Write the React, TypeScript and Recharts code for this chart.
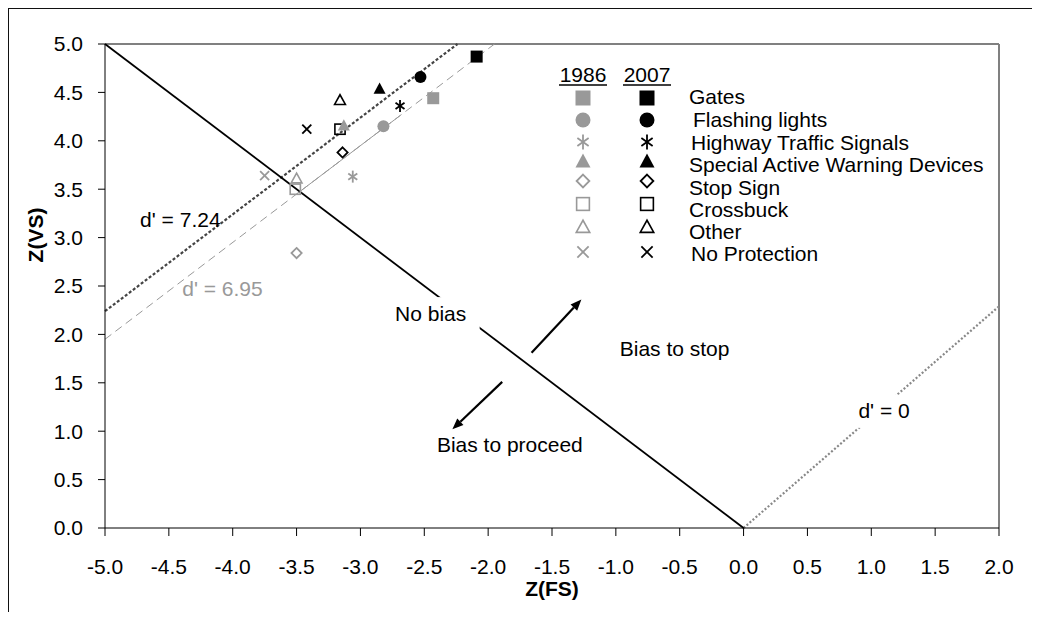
import {
  ComposedChart,
  Scatter,
  XAxis,
  YAxis,
  ReferenceLine,
  ReferenceDot,
  Legend,
} from "recharts";

const FONT = "'Liberation Sans', Arial, Helvetica, sans-serif";
const GRAY = "#999999";
const BLACK = "#000000";

const categories = [
  "Gates",
  "Flashing lights",
  "Highway Traffic Signals",
  "Special Active Warning Devices",
  "Stop Sign",
  "Crossbuck",
  "Other",
  "No Protection",
];
const markerKinds = ["square", "circle", "asterisk", "triangle", "diamondOpen", "squareOpen", "triangleOpen", "cross"];
const years = ["1986", "2007"];

// z-scores: false stops (x) and valid stops (y)
const fs1986 = [-2.43, -2.82, -3.06, -3.13, -3.5, -3.51, -3.5, -3.75];
const vs1986 = [4.44, 4.15, 3.63, 4.16, 2.84, 3.5, 3.61, 3.64];
const fs2007 = [-2.09, -2.53, -2.69, -2.85, -3.14, -3.16, -3.16, -3.42];
const vs2007 = [4.87, 4.66, 4.36, 4.54, 3.88, 4.12, 4.42, 4.12];

const xTicks = [-5, -4.5, -4, -3.5, -3, -2.5, -2, -1.5, -1, -0.5, 0, 0.5, 1, 1.5, 2];
const yTicks = [0, 0.5, 1, 1.5, 2, 2.5, 3, 3.5, 4, 4.5, 5];

const noBiasLine = [{ x: -5, y: 5 }, { x: 0, y: 0 }];
const dPrime724Line = [{ x: -5, y: 2.24 }, { x: -2.24, y: 5 }];
const dPrime695Line = [{ x: -5, y: 1.95 }, { x: -1.95, y: 5 }];
const dPrime695Solid = [{ x: -3.5, y: 3.45 }, { x: -2.69, y: 4.26 }];
const dPrime0Line = [{ x: 0, y: 0 }, { x: 2, y: 2.29 }];
const arrowToStop = [{ x: -1.66, y: 1.81 }, { x: -1.27, y: 2.36 }];
const arrowToProceed = [{ x: -1.89, y: 1.51 }, { x: -2.28, y: 1.02 }];

const notes = [
  { x: -4.41, y: 3.19, text: "d' = 7.24", color: BLACK, box: 0 },
  { x: -4.08, y: 2.47, text: "d' = 6.95", color: GRAY, box: 0 },
  { x: -2.45, y: 2.22, text: "No bias", color: BLACK, box: 94 },
  { x: -0.54, y: 1.85, text: "Bias to stop", color: BLACK, box: 0 },
  { x: -1.83, y: 0.86, text: "Bias to proceed", color: BLACK, box: 0 },
  { x: 1.1, y: 1.21, text: "d' = 0", color: BLACK, box: 58 },
];

const fmt = (v: number) => v.toFixed(1);

function Marker({ kind, color, cx, cy, size }: { kind: string; color: string; cx: number; cy: number; size: number }) {
  const h = size / 2;
  switch (kind) {
    case "square":
      return <rect x={cx - h} y={cy - h} width={size} height={size} fill={color} />;
    case "circle":
      return <circle cx={cx} cy={cy} r={h} fill={color} />;
    case "triangle":
      return <polygon points={`${cx},${cy - h} ${cx + h},${cy + h * 0.85} ${cx - h},${cy + h * 0.85}`} fill={color} />;
    case "diamondOpen": {
      const d = h * 0.85;
      return (
        <polygon
          points={`${cx},${cy - d} ${cx + d},${cy} ${cx},${cy + d} ${cx - d},${cy}`}
          fill="none"
          stroke={color}
          strokeWidth={1.8}
        />
      );
    }
    case "squareOpen": {
      const d = h * 0.85;
      return <rect x={cx - d} y={cy - d} width={d * 2} height={d * 2} fill="none" stroke={color} strokeWidth={1.6} />;
    }
    case "triangleOpen": {
      const d = h * 0.9;
      return (
        <polygon
          points={`${cx},${cy - d} ${cx + d},${cy + d * 0.8} ${cx - d},${cy + d * 0.8}`}
          fill="none"
          stroke={color}
          strokeWidth={1.6}
        />
      );
    }
    case "asterisk": {
      const d = h * 0.75;
      return (
        <g stroke={color} strokeWidth={1.8}>
          <line x1={cx} y1={cy - h} x2={cx} y2={cy + h} />
          <line x1={cx - d} y1={cy - d * 0.7} x2={cx + d} y2={cy + d * 0.7} />
          <line x1={cx - d} y1={cy + d * 0.7} x2={cx + d} y2={cy - d * 0.7} />
        </g>
      );
    }
    default: {
      const d = h * 0.75;
      return (
        <g stroke={color} strokeWidth={1.8}>
          <line x1={cx - d} y1={cy - d} x2={cx + d} y2={cy + d} />
          <line x1={cx - d} y1={cy + d} x2={cx + d} y2={cy - d} />
        </g>
      );
    }
  }
}

function Arrow(props: any) {
  const { x1, y1, x2, y2 } = props;
  const a = Math.atan2(y2 - y1, x2 - x1);
  const len = 11;
  const w = 4.5;
  const bx = x2 - len * Math.cos(a);
  const by = y2 - len * Math.sin(a);
  const px = -Math.sin(a) * w;
  const py = Math.cos(a) * w;
  return (
    <g>
      <line x1={x1} y1={y1} x2={bx} y2={by} stroke={BLACK} strokeWidth={2.2} />
      <polygon points={`${x2},${y2} ${bx + px},${by + py} ${bx - px},${by - py}`} fill={BLACK} />
    </g>
  );
}

function NoteShape({ cx, cy, note }: any) {
  return (
    <g>
      {note.box > 0 && <rect x={cx - note.box / 2 + 2} y={cy - 16} width={note.box} height={33} fill="#fff" />}
      <text x={cx} y={cy} textAnchor="middle" dominantBaseline="central" fill={note.color} fontSize={21} fontFamily={FONT}>
        {note.text}
      </text>
    </g>
  );
}

function LegendBlock() {
  const symX = [575, 639];
  const rowY = [90, 112, 134, 153, 173, 196, 219, 244];
  const textY = [88, 111, 134, 156, 179, 201, 223, 245];
  const textX = [681, 685, 683, 681, 681, 681, 681, 683];
  const colors = [GRAY, BLACK];
  return (
    <svg width={1032} height={300} style={{ display: "block", overflow: "visible" }}>
      {years.map((yr, i) => (
        <g key={yr}>
          <text x={symX[i]} y={74} textAnchor="middle" fontSize={21} fontFamily={FONT} fill={BLACK}>
            {yr}
          </text>
          <line x1={symX[i] - 24} x2={symX[i] + 24} y1={77} y2={77} stroke={BLACK} strokeWidth={1.5} />
        </g>
      ))}
      {categories.map((c, i) => (
        <g key={c}>
          {colors.map((col, j) => (
            <Marker key={j} kind={markerKinds[i]} color={col} cx={symX[j]} cy={rowY[i]} size={15} />
          ))}
          <text x={textX[i]} y={textY[i]} dominantBaseline="central" fontSize={21} fontFamily={FONT} fill={BLACK}>
            {c}
          </text>
        </g>
      ))}
    </svg>
  );
}

export default function App() {
  const tickStyle = { fill: BLACK, fontSize: 21, fontFamily: FONT };
  return (
    <div style={{ position: "relative", width: 1032, height: 612, marginBottom: -8, overflow: "hidden" }}>
      <div
        style={{
          position: "absolute",
          left: 0,
          top: 0,
          width: 1100,
          height: 700,
          borderTop: "1px solid #111",
          borderLeft: "1px solid #111",
        }}
      />
      <ComposedChart width={1032} height={612} margin={{ top: 36, right: 41, bottom: 2, left: 37 }}>
        <XAxis
          type="number"
          dataKey="x"
          domain={[-5, 2]}
          ticks={xTicks}
          interval={0}
          allowDataOverflow
          tickFormatter={fmt}
          tickSize={8}
          tickMargin={23}
          height={90}
          stroke={BLACK}
          tick={tickStyle}
          label={{
            content: (p: any) => (
              <text
                x={p.viewBox.x + p.viewBox.width / 2}
                y={p.viewBox.y + 60}
                textAnchor="middle"
                dominantBaseline="central"
                fontSize={21}
                fontWeight="bold"
                fontFamily={FONT}
                fill={BLACK}
              >
                Z(FS)
              </text>
            ),
          }}
        />
        <YAxis
          type="number"
          dataKey="y"
          domain={[0, 5]}
          ticks={yTicks}
          interval={0}
          allowDataOverflow
          tickFormatter={fmt}
          tickSize={7}
          tickMargin={15}
          width={60}
          stroke={BLACK}
          tick={tickStyle}
          label={{
            content: (p: any) => {
              const x = p.viewBox.x - 10;
              const y = p.viewBox.y + 191;
              return (
                <text
                  x={x}
                  y={y}
                  transform={`rotate(-90 ${x} ${y})`}
                  textAnchor="middle"
                  dominantBaseline="central"
                  fontSize={21}
                  fontWeight="bold"
                  fontFamily={FONT}
                  fill={BLACK}
                >
                  Z(VS)
                </text>
              );
            },
          }}
        />
        <ReferenceLine y={5} stroke="#808080" strokeWidth={2} />
        <ReferenceLine x={2} stroke="#808080" strokeWidth={2} />

        <ReferenceLine segment={dPrime695Line} stroke={GRAY} strokeWidth={1} strokeDasharray="8 5" />
        <ReferenceLine segment={dPrime695Solid} stroke={GRAY} strokeWidth={1} />
        <ReferenceLine segment={dPrime724Line} stroke="#444" strokeWidth={2.2} strokeDasharray="3 2" />
        <ReferenceLine segment={dPrime0Line} stroke="#888" strokeWidth={2.2} strokeDasharray="2 2" />
        <ReferenceLine segment={noBiasLine} stroke={BLACK} strokeWidth={1.8} />
        <ReferenceLine segment={arrowToStop} shape={Arrow} />
        <ReferenceLine segment={arrowToProceed} shape={Arrow} />

        {categories.map((c, i) => (
          <Scatter
            key={`2007-${c}`}
            name={`${c} 2007`}
            data={[{ x: fs2007[i], y: vs2007[i] }]}
            isAnimationActive={false}
            shape={(p: any) => <Marker kind={markerKinds[i]} color={BLACK} cx={p.cx} cy={p.cy} size={12} />}
          />
        ))}
        {categories.map((c, i) => (
          <Scatter
            key={`1986-${c}`}
            name={`${c} 1986`}
            data={[{ x: fs1986[i], y: vs1986[i] }]}
            isAnimationActive={false}
            shape={(p: any) => <Marker kind={markerKinds[i]} color={GRAY} cx={p.cx} cy={p.cy} size={12} />}
          />
        ))}

        {notes.map((n) => (
          <ReferenceDot key={n.text} x={n.x} y={n.y} r={0} shape={(p: any) => <NoteShape cx={p.cx} cy={p.cy} note={n} />} />
        ))}

        <Legend
          layout="vertical"
          align="center"
          verticalAlign="middle"
          wrapperStyle={{ left: 0, top: 0, width: 1032, height: 300 }}
          content={() => <LegendBlock />}
        />
      </ComposedChart>
    </div>
  );
}
